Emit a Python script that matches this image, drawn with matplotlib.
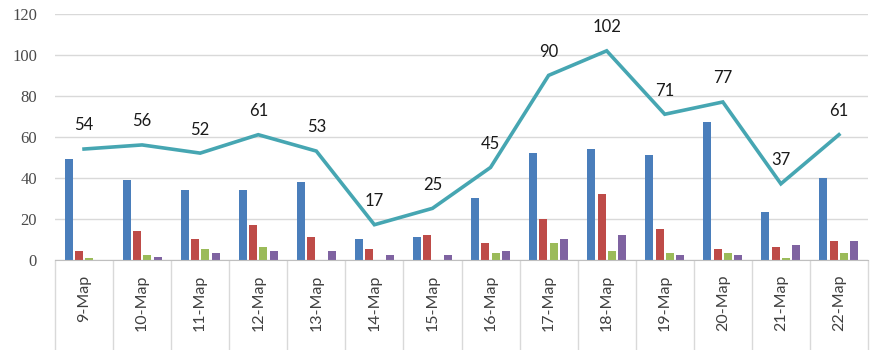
import matplotlib
matplotlib.use("Agg")
import matplotlib.pyplot as plt
import numpy as np
from matplotlib.ticker import FixedLocator

plt.rcParams['font.family'] = ['Lato', 'DejaVu Sans']

categories = ["9-Мар", "10-Мар", "11-Мар", "12-Мар", "13-Мар", "14-Мар", "15-Мар",
              "16-Мар", "17-Мар", "18-Мар", "19-Мар", "20-Мар", "21-Мар", "22-Мар"]
blue_vals = [49, 39, 34, 34, 38, 10, 11, 30, 52, 54, 51, 67, 23, 40]
red_vals = [4, 14, 10, 17, 11, 5, 12, 8, 20, 32, 15, 5, 6, 9]
green_vals = [0.5, 2, 5, 6, 0, 0, 0, 3, 8, 4, 3, 3, 0.5, 3]
purple_vals = [0, 1, 3, 4, 4, 2, 2, 4, 10, 12, 2, 2, 7, 9]
line_vals = [54, 56, 52, 61, 53, 17, 25, 45, 90, 102, 71, 77, 37, 61]
y_ticks = [0, 20, 40, 60, 80, 100, 120]

colors = ["#4A7EBB", "#BE4B48", "#9BBB59", "#7F63A1"]
line_color = "#46A6B2"

fig = plt.figure(figsize=(8.8, 3.5), dpi=100)
ax = fig.add_axes([55/880, 1 - 259.5/350, (868 - 55)/880, (259.5 - 14)/350])

x = np.arange(len(categories))
width = 0.138
pitch = 0.178
series = [blue_vals, red_vals, green_vals, purple_vals]
for i, (vals, c) in enumerate(zip(series, colors)):
    ax.bar(x + (i - 1.5) * pitch, vals, width=width, color=c, zorder=2)

ax.plot(x, line_vals, color=line_color, lw=2.6, zorder=3, solid_joinstyle='miter')
for xi, v in zip(x, line_vals):
    ax.annotate(str(v), (xi, v), xytext=(0, 17), textcoords='offset points',
                ha='center', va='center', fontsize=12, color='#1a1a1a', zorder=4)

ax.set_xlim(-0.5, len(categories) - 0.5)
ax.set_ylim(0, 120)
ax.set_yticks(y_ticks)
ax.yaxis.grid(True, color='#D9D9D9', lw=1)
ax.set_axisbelow(True)
for s in ['top', 'right', 'left']:
    ax.spines[s].set_visible(False)
ax.spines['bottom'].set_color('#BFBFBF')
ax.tick_params(axis='y', length=0, pad=13, labelsize=12, labelcolor='#4a4a4a')
for lab in ax.get_yticklabels():
    lab.set_family(['Liberation Serif', 'DejaVu Serif'])

ax.set_xticks(x)
ax.set_xticklabels(categories, rotation=90, fontsize=11.5, color='#404040')
ax.tick_params(axis='x', which='major', length=0, pad=11)
ax.xaxis.set_minor_locator(FixedLocator(np.arange(-0.5, len(categories), 1.0)))
ax.tick_params(axis='x', which='minor', length=66, color='#D9D9D9', width=1, direction='out')
for lab in ax.get_xticklabels():
    lab.set_va('top')

fig.savefig("out.png", dpi=100, facecolor='white')
